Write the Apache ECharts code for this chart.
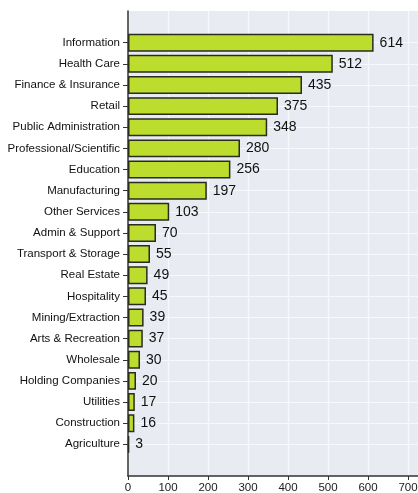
<!DOCTYPE html>
<html>
<head>
<meta charset="utf-8">
<script src="https://cdn.jsdelivr.net/npm/echarts@6/dist/echarts.min.js"></script>
<style>
html,body{margin:0;padding:0;background:#fff;}
#chart{width:418px;height:493px;}
</style>
</head>
<body>
<div id="chart"></div>
<script>
const categories = ['Information','Health Care','Finance & Insurance','Retail','Public Administration','Professional/Scientific','Education','Manufacturing','Other Services','Admin & Support','Transport & Storage','Real Estate','Hospitality','Mining/Extraction','Arts & Recreation','Wholesale','Holding Companies','Utilities','Construction','Agriculture'];
const values = [614,512,435,375,348,280,256,197,103,70,55,49,45,39,37,30,20,17,16,3];
const xTicks = [0,100,200,300,400,500,600,700];

// pad one empty slot at each end of the category axis
const axisCats = [''].concat(categories, ['']);
const axisVals = [null].concat(values, [null]);
const nCats = axisCats.length;
const isReal = (i) => i > 0 && i < nCats - 1;

const chart = echarts.init(document.getElementById('chart'));
chart.setOption({
  animation: false,
  textStyle: { fontFamily: 'Liberation Sans, Arial, sans-serif' },
  grid: {
    left: 128, right: 0, top: 11, bottom: 17,
    show: true, backgroundColor: '#e9ebf3', borderWidth: 0,
    containLabel: false, outerBoundsMode: 'none'
  },
  xAxis: {
    type: 'value', min: xTicks[0], max: 725, interval: 100,
    axisLine: { show: true, onZero: false, lineStyle: { color: '#333', width: 1.5 } },
    axisTick: { show: true, length: 4, lineStyle: { color: '#333' } },
    axisLabel: {
      color: '#1a1a1a', fontSize: 11.5, margin: 6,
      showMaxLabel: false,
      formatter: (v) => (xTicks.indexOf(v) >= 0 ? String(v) : '')
    },
    splitLine: { show: true, lineStyle: { color: '#f7f8fb', width: 1.2 } }
  },
  yAxis: {
    type: 'category', data: axisCats, inverse: true,
    axisLine: { show: true, lineStyle: { color: '#333', width: 1.5 } },
    axisTick: { show: true, length: 5, alignWithLabel: true, interval: (i) => isReal(i), lineStyle: { color: '#333' } },
    axisLabel: { color: '#111', fontSize: 11.5, margin: 8, interval: 0 },
    splitLine: { show: true, alignWithLabel: true, interval: (i) => isReal(i), lineStyle: { color: '#f7f8fb', width: 1.2 } }
  },
  series: [{
    type: 'bar',
    data: axisVals,
    barCategoryGap: '15%',
    itemStyle: { color: '#bcdc2e', borderColor: '#2b2b20', borderWidth: 1.5 },
    label: { show: true, position: 'right', distance: 6, color: '#111', fontSize: 14 }
  }]
});
</script>
</body>
</html>
